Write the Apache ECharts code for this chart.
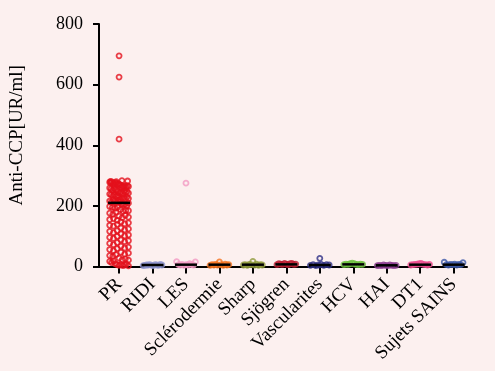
<!DOCTYPE html>
<html>
<head>
<meta charset="utf-8">
<script src="https://cdn.jsdelivr.net/npm/echarts@6/dist/echarts.min.js"></script>
<style>
html,body{margin:0;padding:0;background:#fcf0ef;}
#c{width:495px;height:371px;}
</style>
</head>
<body>
<div id="c"></div>
<script>
const categories = ['PR','RIDI','LES','Sclérodermie','Sharp','Sjögren','Vascularites','HCV','HAI','DT1','Sujets SAINS'];
const colors = ['#e3101b','#8d94cf','#f29ac3','#f5731f','#8e9a3b','#bb1c30','#2e2f86','#6cbf3c','#8b3d8f','#ee4a8c','#3b57a8'];
const yTicks = [0, 200, 400, 600, 800];

const PR = [695, 625, 420,
  281, 278, 276, 279, 274, 272, 277, 280, 275, 271, 283, 273, 282, 270,
  268, 262, 265, 259, 256, 263, 252, 267, 258, 261, 254, 266, 251, 264,
  248, 243, 239, 246, 236, 241, 233, 249, 237, 244, 231, 247, 234, 242,
  228, 221, 225, 216, 212, 219, 226, 214, 223, 211, 218, 229, 213, 224,
  207, 203, 198, 195, 205, 192, 200, 209, 196,
  188, 182, 176, 185, 172, 179, 184,
  166, 161, 155, 169, 158, 152, 163,
  147, 141, 136, 144, 133, 139,
  127, 121, 116, 124, 112, 118,
  108, 101, 96, 104, 93, 99,
  88, 82, 76, 85, 72, 79,
  67, 61, 56, 64, 52, 59,
  47, 41, 36, 44, 33, 39,
  28, 22, 17, 25, 13, 19, 21,
  9, 6, 4, 7, 3, 5, 8, 2];
const RIDI = [3, 4, 5, 5, 6, 4, 3, 6, 5, 4, 7, 5];
const LES = [16, 6, 5, 7, 4, 275, 6, 5, 9, 6, 5, 15];
const SCLERO = [4, 6, 5, 7, 5, 15, 6, 4, 8, 5, 6];
const SHARP = [5, 6, 4, 7, 6, 17, 5, 8, 4, 6, 5];
const SJOGREN = [6, 9, 8, 7, 10, 8, 6, 9, 10, 7, 8];
const VASC = [4, 6, 3, 5, 27, 7, 4, 6, 5];
const HCV = [6, 8, 7, 9, 11, 9, 7, 6, 8, 7];
const HAI = [3, 4, 3, 5, 4, 3, 5, 4, 3, 4];
const DT1 = [5, 6, 7, 8, 9, 10, 7, 6, 5, 7];
const SAINS = [14, 6, 5, 7, 6, 8, 5, 7, 6, 13];
const groups = [PR, RIDI, LES, SCLERO, SHARP, SJOGREN, VASC, HCV, HAI, DT1, SAINS];
const medians = [210, 5, 6, 6, 6, 7, 5, 7, 4, 6, 6];

const BIN = 20, HALF = 0.28;
function swarm(vals, idx) {
  const bins = {};
  vals.forEach(v => { const b = Math.floor(v / BIN); (bins[b] = bins[b] || []).push(v); });
  const out = [];
  Object.keys(bins).forEach(key => {
    const arr = bins[key];
    const k = arr.length;
    const step = k > 1 ? Math.min(0.17, 2 * HALF / (k - 1)) : 0;
    arr.forEach((v, j) => out.push([idx + (j - (k - 1) / 2) * step, v]));
  });
  return out;
}

const FONT = 'Liberation Serif';
const catIdx = categories.map((c, i) => i);

const series = groups.map((g, i) => ({
  type: 'scatter',
  name: categories[i],
  data: swarm(g, i),
  symbol: 'circle',
  symbolSize: 5,
  itemStyle: { color: 'rgba(0,0,0,0)', borderColor: colors[i], borderWidth: 1.8 },
  silent: true,
  z: 2
}));
series.push({
  type: 'custom',
  data: medians.map((m, i) => [i, m]),
  renderItem: function (params, api) {
    const x = api.value(0), y = api.value(1);
    const p1 = api.coord([x - 0.33, y]);
    const p2 = api.coord([x + 0.33, y]);
    return { type: 'line', shape: { x1: p1[0], y1: p1[1], x2: p2[0], y2: p2[1] },
      style: { stroke: '#000', lineWidth: 2.5 } };
  },
  silent: true,
  z: 5
});

const chart = echarts.init(document.getElementById('c'));
chart.setOption({
  backgroundColor: '#fcf0ef',
  animation: false,
  grid: { left: 96, right: 28, top: 24, bottom: 104.5 },
  xAxis: {
    type: 'value', min: -0.6, max: 10.4,
    splitLine: { show: false },
    axisLine: { show: true, onZero: false, lineStyle: { color: '#000', width: 2 } },
    axisTick: { show: true, customValues: catIdx, length: 7, lineStyle: { color: '#000', width: 2 } },
    axisLabel: { show: true, customValues: catIdx, rotate: 45, margin: 15,
      formatter: v => categories[Math.round(v)],
      color: '#000', fontFamily: FONT, fontSize: 19 }
  },
  yAxis: {
    type: 'value', min: 0, max: 800, interval: 200,
    name: 'Anti-CCP[UR/ml]', nameLocation: 'middle', nameGap: 72,
    nameTextStyle: { color: '#000', fontFamily: FONT, fontSize: 19, padding: [0, 0, 0, 20] },
    splitLine: { show: false },
    axisLine: { show: true, onZero: false, lineStyle: { color: '#000', width: 2 } },
    axisTick: { show: true, length: 6, lineStyle: { color: '#000', width: 2 } },
    axisLabel: { color: '#000', fontFamily: FONT, fontSize: 18, margin: 16,
      formatter: v => (yTicks.indexOf(v) >= 0 ? String(v) : '') }
  },
  series: series
});
</script>
</body>
</html>
